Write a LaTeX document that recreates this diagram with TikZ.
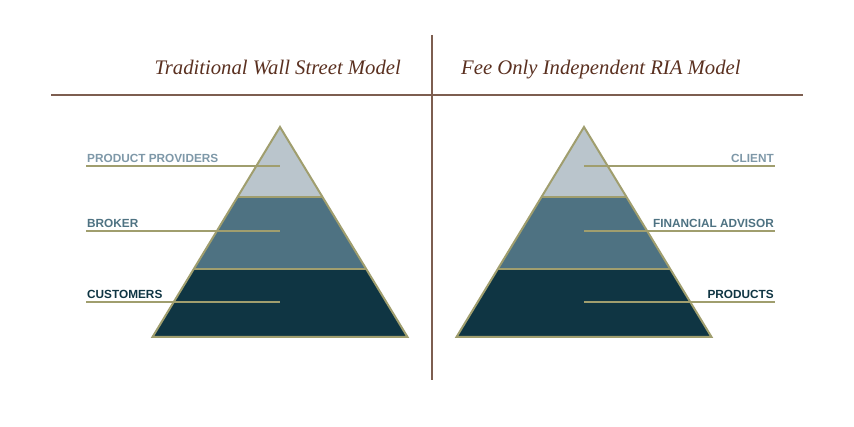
\documentclass[tikz,border=0pt]{standalone}
\usepackage{fontspec}
\setmainfont{Liberation Serif}
\newfontfamily\labelfont{Liberation Sans}
\definecolor{brownline}{HTML}{7D5E50}
\definecolor{titlebrown}{HTML}{5A3020}
\definecolor{olive}{HTML}{A09E6E}
\definecolor{tierA}{HTML}{BAC5CC}
\definecolor{tierB}{HTML}{4E7282}
\definecolor{tierC}{HTML}{0F3543}
\definecolor{labA}{HTML}{7E98A8}
\tikzset{
  divider/.style={draw=brownline, line width=2pt},
  title/.style={font=\fontsize{20.7}{24}\selectfont\itshape, text=titlebrown, inner sep=0pt},
  lab/.style={font=\labelfont\bfseries\fontsize{11.8}{13}\selectfont, inner sep=0pt},
  tierline/.style={draw=olive, line width=2pt},
  leader/.style={draw=olive, line width=2pt},
}
\begin{document}
\begin{tikzpicture}[x=1pt,y=-1pt]
\useasboundingbox (0,0) rectangle (854,427);
% dividers
\coordinate (vtop) at (432,35);
\coordinate (vbot) at (432,380);
\coordinate (hl) at (51,95);
\coordinate (hr) at (803,95);
\draw[divider] (vtop) -- (vbot);
\draw[divider] (hl) -- (hr);
% titles
\node[title, anchor=base east] (t1) at (401,75) {Traditional Wall Street Model};
\node[title, anchor=base west] (t2) at (461,75) {Fee Only Independent RIA Model};
% pyramids
\foreach \cx/\nm in {280/L,584/R}{
  \begin{scope}[shift={(\cx,0)}]
    \fill[tierA] (0,127) -- (42.5,197) -- (-42.5,197) -- cycle;
    \fill[tierB] (-42.5,197) -- (42.5,197) -- (86,269) -- (-86,269) -- cycle;
    \fill[tierC] (-86,269) -- (86,269) -- (127.5,337) -- (-127.5,337) -- cycle;
    \draw[tierline] (-42.5,197) -- (42.5,197);
    \draw[tierline] (-86,269) -- (86,269);
    \draw[olive, line width=2pt, line join=miter] (0,127) -- (127.5,337) -- (-127.5,337) -- cycle;
    \coordinate (\nm1) at (0,166);
    \coordinate (\nm2) at (0,231);
    \coordinate (\nm3) at (0,302);
  \end{scope}
}
% left labels
\node[lab, text=labA, anchor=base west] (pp) at (87,163) {PRODUCT PROVIDERS};
\node[lab, text=tierB, anchor=base west] (br) at (87,228) {BROKER};
\node[lab, text=tierC, anchor=base west] (cu) at (87,299) {CUSTOMERS};
\coordinate (ppS) at (86,166);
\coordinate (brS) at (86,231);
\coordinate (cuS) at (86,302);
\draw[leader] (ppS) -- (L1);
\draw[leader] (brS) -- (L2);
\draw[leader] (cuS) -- (L3);
% right labels
\node[lab, text=labA, anchor=base east] (cl) at (774,163) {CLIENT};
\node[lab, text=tierB, anchor=base east] (fa) at (774,228) {FINANCIAL ADVISOR};
\node[lab, text=tierC, anchor=base east] (pr) at (774,299) {PRODUCTS};
\coordinate (clE) at (775,166);
\coordinate (faE) at (775,231);
\coordinate (prE) at (775,302);
\draw[leader] (R1) -- (clE);
\draw[leader] (R2) -- (faE);
\draw[leader] (R3) -- (prE);
\end{tikzpicture}
\end{document}
